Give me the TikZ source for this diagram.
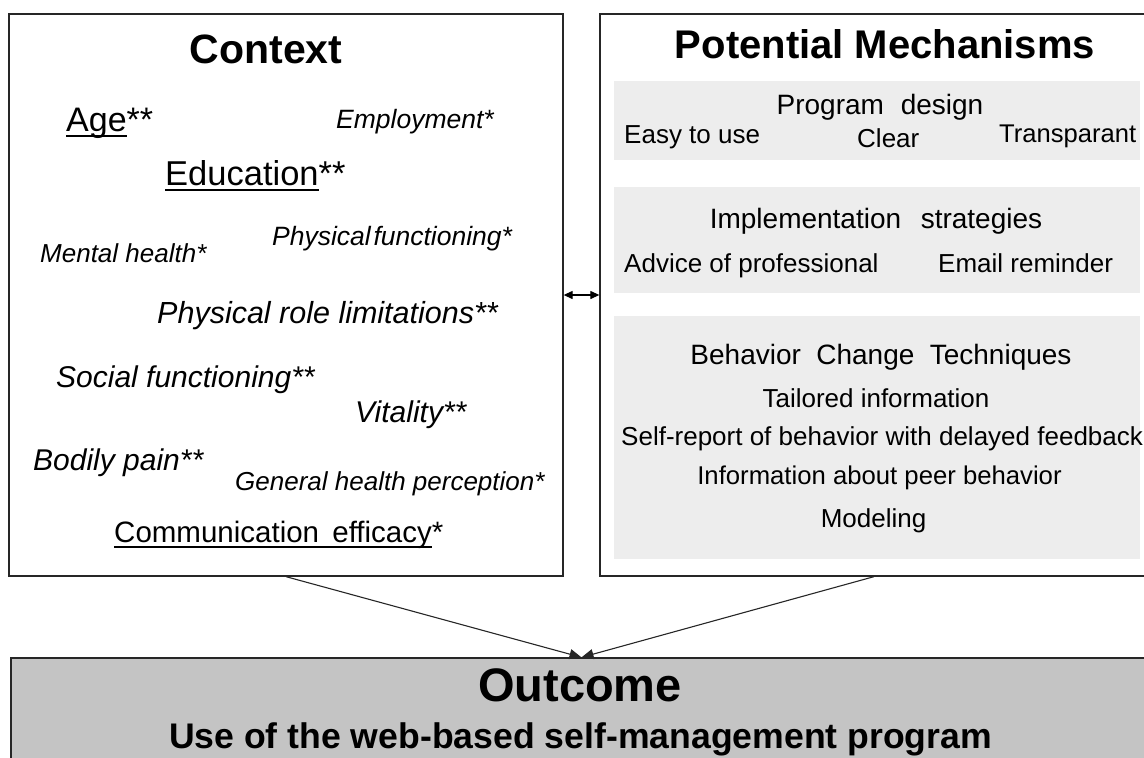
\documentclass[tikz,border=0pt]{standalone}
\usepackage{fontspec}
\setmainfont{Liberation Sans}
\usetikzlibrary{arrows.meta}

% underline set at a fixed depth below the baseline
\newsavebox{\undlbox}
\newcommand{\undl}[1]{\sbox{\undlbox}{#1}\rlap{\rule[-5.5pt]{\wd\undlbox}{1.4pt}}\usebox{\undlbox}}

\begin{document}
\begin{tikzpicture}[
    x=1pt, y=-1pt,
    box/.style={draw=black!85, line width=1.3pt, inner sep=0pt},
    panel/.style={fill=black!7, inner sep=0pt},
    heading/.style={anchor=base, inner sep=0pt, font=\bfseries\fontsize{#1}{#1}\selectfont},
    fac/.style={anchor=base west, inner sep=0pt, font=\itshape\fontsize{#1}{#1}\selectfont},
    facup/.style={anchor=base west, inner sep=0pt, font=\fontsize{#1}{#1}\selectfont},
    mtxt/.style={anchor=base, inner sep=0pt, font=\fontsize{#1}{#1}\selectfont},
    arrow/.style={-{Triangle[length=12pt,width=10pt]}, line width=1.1pt, black!85},
    dblarrow/.style={{Triangle[length=9pt,width=8pt]}-{Triangle[length=9pt,width=8pt]}, line width=1.2pt}
]
    \useasboundingbox (0,0) rectangle (1144,758);
    \clip (0,0) rectangle (1144,758);

    % Main boxes
    \node[box, minimum width=554, minimum height=562] (ctx) at (286,295) {};
    \node[box, minimum width=548, minimum height=562] (mech) at (874,295) {};
    \node[box, fill=black!23, minimum width=1141, minimum height=132] (out) at (581.5,724) {};

    % Context
    \node[heading=41] (ctxtitle) at (266,63) {Context};
    \node[facup=34] (age) at (66,131) {\undl{Age}**};
    \node[fac=26.5] (employ) at (336,128) {Employment*};
    \node[facup=34.5] (edu) at (165,185) {\undl{Education}**};
    \node[fac=26.5] (physfun) at (272,245) {Physical\hspace{0.1em}functioning*};
    \node[fac=26] (mental) at (40,262) {Mental health*};
    \node[fac=30.5] (physrole) at (157,323) {Physical role limitations**};
    \node[fac=30] (social) at (56,387) {Social functioning**};
    \node[fac=30] (vital) at (355,422) {Vitality**};
    \node[fac=30] (pain) at (33,470) {Bodily pain**};
    \node[fac=26] (genhealth) at (235,490) {General health perception*};
    \node[facup=29.5] (comm) at (114,542) {\undl{Communication\hspace{0.45em}efficacy}*};

    % Potential mechanisms
    \node[heading=40] (mechtitle) at (885,58) {Potential Mechanisms};
    \node[panel, minimum width=526, minimum height=79] (design) at (877,120.5) {};
    \node[panel, minimum width=526, minimum height=106] (impl) at (877,240) {};
    \node[panel, minimum width=526, minimum height=243] (bct) at (877,437.5) {};

    \node[mtxt=28] (designhead) at (880,114) {Program\hspace{0.6em}design};
    \node[facup=26] (easy) at (624,143) {Easy to use};
    \node[facup=26] (clear) at (857,147) {Clear};
    \node[facup=25.6] (transp) at (999,142) {Transparant};

    \node[mtxt=28] (implhead) at (876,228) {Implementation\hspace{0.7em}strategies};
    \node[facup=26] (advice) at (624,272) {Advice of professional};
    \node[facup=26] (email) at (938,272) {Email reminder};

    \node[mtxt=28] (bcthead) at (881,364) {Behavior\hspace{0.55em}Change\hspace{0.55em}Techniques};
    \node[mtxt=26] (tailor) at (876,407) {Tailored information};
    \node[facup=26] (selfrep) at (621,445) {Self-report of behavior with delayed feedback};
    \node[mtxt=25.7] (peer) at (879.5,484) {Information about peer behavior};
    \node[mtxt=26] (model) at (873.5,527) {Modeling};

    % Outcome
    \node[heading=47] (outtitle) at (580,701) {Outcome};
    \node[heading=35.6] (outuse) at (580.5,748) {Use of the web-based self-management program};

    % Connectors
    \draw[dblarrow] (ctx.east) -- (mech.west);
    \draw[arrow] (ctx.south) -- (out.north);
    \draw[arrow] (mech.south) -- (out.north);

\end{tikzpicture}
\end{document}
